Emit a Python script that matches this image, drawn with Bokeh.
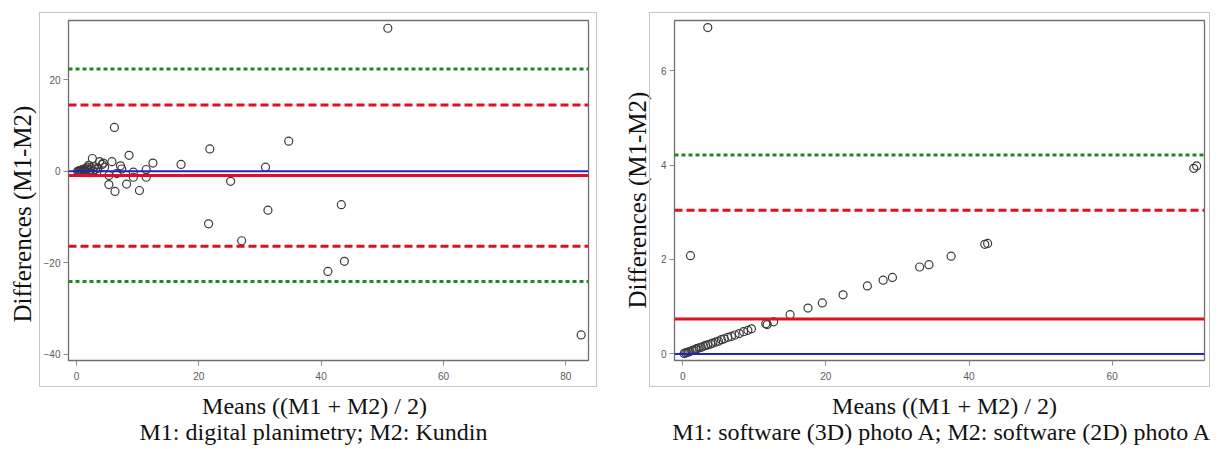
from bokeh.plotting import figure
from bokeh.layouts import row, column
from bokeh.models import FixedTicker, Span, Title, InlineStyleSheet, Range1d
from bokeh.core.properties import value
from bokeh.embed import file_html
from bokeh.resources import INLINE

# ---------------- data: panel A (digital planimetry vs Kundin) ----------------
a_means = [0.2, 0.4, 0.5, 0.6, 0.8, 0.9, 1.0, 1.1, 1.3, 1.4, 1.5, 1.7, 1.8, 2.0,
           2.1, 2.2, 2.4, 2.6, 2.7, 2.9, 3.1, 3.3, 3.5, 3.8, 4.2, 4.4, 4.6,
           5.3, 5.3, 5.8, 6.2, 6.3, 6.6, 7.2, 7.4, 8.2, 8.6, 9.3, 9.3, 10.3,
           11.4, 11.4, 12.5, 17.1, 21.6, 21.8, 25.2, 27.0, 30.9, 31.3, 34.7,
           41.1, 43.3, 43.8, 50.9, 82.5]
a_diffs = [0.0, 0.1, -0.1, 0.2, 0.1, 0.3, -0.2, 0.4, 0.2, 0.6, 0.0, 0.5, 0.9, 1.3,
           0.3, -0.3, 0.8, 2.8, 0.1, 1.0, 0.4, -0.2, 0.7, 2.1, 1.5, 1.8, 0.9,
           -0.9, -2.9, 2.1, 9.6, -4.4, -0.5, 1.2, 0.5, -2.8, 3.5, -0.2, -1.3, -4.2,
           0.4, -1.3, 1.8, 1.5, -11.5, 4.9, -2.2, -15.2, 0.9, -8.5, 6.6,
           -21.9, -7.3, -19.7, 31.3, -35.8]
a_bias = -0.9
a_loa = [-16.4, 14.5]      # bias -/+ 1.96 SD
a_outer = [-24.1, 22.4]    # outer limits
a_xticks = [0, 20, 40, 60, 80]
a_yticks = [-40, -20, 0, 20]
a_subtitle = "M1: digital planimetry; M2: Kundin"

# ---------------- data: panel B (software 3D vs 2D photo A) ----------------
b_means = [0.2, 0.4, 0.6, 0.8, 1.0, 1.3, 1.5, 1.8, 2.0, 2.3, 2.6, 2.9, 3.2, 3.5,
           3.9, 4.2, 4.6, 5.0, 5.4, 5.8, 6.3, 6.8, 7.3, 7.9, 8.5, 9.1, 9.6,
           11.6, 11.8, 12.7, 15.0, 17.5, 19.5, 22.4, 25.8, 28.0, 29.3, 33.1,
           34.4, 37.5, 42.2, 42.6, 71.4, 71.8, 1.08, 3.5]
b_diffs = [0.01, 0.02, 0.03, 0.04, 0.05, 0.07, 0.08, 0.10, 0.11, 0.13, 0.14, 0.16,
           0.18, 0.19, 0.21, 0.23, 0.25, 0.27, 0.30, 0.32, 0.35, 0.37, 0.40, 0.43,
           0.47, 0.50, 0.53,
           0.64, 0.62, 0.68, 0.83, 0.97, 1.08, 1.25, 1.44, 1.56, 1.62, 1.84,
           1.89, 2.07, 2.32, 2.34, 3.93, 3.98, 2.08, 6.91]
b_bias = 0.74
b_loa = [3.04]
b_outer = [4.21]
b_xticks = [0, 20, 40, 60]
b_yticks = [0, 2, 4, 6]
b_subtitle = "M1: software (3D) photo A; M2: software (2D) photo A"

x_title = "Means ((M1 + M2) / 2)"
y_title = "Differences (M1-M2)"

RED = "#e2101e"
GREEN = "#1d8a2a"
BLUE = "#2222c8"
SERIF = "Liberation Serif"
H = 388


def panel(means, diffs, bias, loa, outer, xr, yr, xticks, yticks, width,
          mb_left, mb_right, box, ylab_off, ylab_standoff):
    p = figure(width=width, height=H, x_range=xr, y_range=yr,
               output_backend="svg", toolbar_location=None,
               min_border_left=mb_left, min_border_right=mb_right,
               min_border_top=20, min_border_bottom=H - 360)
    p.grid.visible = False
    p.outline_line_color = "#6e6e6e"
    p.outline_line_width = 1.3
    p.background_fill_color = "white"
    p.border_fill_color = "white"
    for ax in (p.xaxis[0], p.yaxis[0]):
        ax.axis_line_color = None
        ax.major_tick_line_color = "#8a8a8a"
        ax.major_tick_out = 5
        ax.major_tick_in = 0
        ax.minor_tick_line_color = None
        ax.major_label_text_font = "Liberation Sans"
        ax.major_label_text_font_size = "10px"
        ax.major_label_text_color = "#5a5a5a"
    p.xaxis[0].ticker = FixedTicker(ticks=xticks)
    p.yaxis[0].ticker = FixedTicker(ticks=yticks)
    p.xaxis[0].major_label_standoff = 6
    p.yaxis[0].major_label_standoff = 3

    # reference lines
    p.add_layout(Span(location=0, dimension="width", line_color=BLUE, line_width=2))
    p.add_layout(Span(location=bias, dimension="width", line_color=RED, line_width=3))
    for v in loa:
        p.add_layout(Span(location=v, dimension="width", line_color=RED,
                          line_width=3, line_dash="8 4"))
    for v in outer:
        p.add_layout(Span(location=v, dimension="width", line_color=GREEN,
                          line_width=3, line_dash="4 3"))

    p.scatter(means, diffs, marker="circle", size=8, fill_color=None,
              line_color="#3a3a3a", line_width=1.2)

    # light outer frame around the plot area and tick labels
    css = (":host { position: relative; }"
           ":host::after { content: ''; position: absolute; "
           f"left: {box[0]}px; top: {box[1]}px; width: {box[2]}px; height: {box[3]}px; "
           "border: 1.5px solid #c6c6c6; box-sizing: border-box; "
           "pointer-events: none; z-index: 10; }")
    p.stylesheets = [InlineStyleSheet(css=css)]

    p.add_layout(Title(text=y_title, align="left", offset=ylab_off, standoff=ylab_standoff,
                       text_font=SERIF, text_font_size="25px",
                       text_font_style="normal", text_color="#111111"), "left")
    return p


pa = panel(a_means, a_diffs, a_bias, a_loa, a_outer, (-1.3, 83.7), (-41.4, 33.0),
           a_xticks, a_yticks, 610, 68, 22,
           (39, 12, 558, 375), 38, 10)
pb = panel(b_means, b_diffs, b_bias, b_loa, b_outer, (-1.15, 72.9), (-0.14, 7.06),
           b_xticks, b_yticks, 610, 64, 16,
           (39, 12, 561, 375), 52, 14)

# captions strip below both panels (x-axis titles and method descriptions)
CH = 60
cap = figure(width=1220, height=CH, x_range=Range1d(0, 1220), y_range=Range1d(CH, 0),
             output_backend="svg", toolbar_location=None,
             x_axis_type=None, y_axis_type=None, min_border=0)
cap.grid.visible = False
cap.outline_line_color = None
cap.text(x=[314, 944], y=[17, 17], text=[x_title, x_title],
         text_align="center", text_baseline="alphabetic",
         text_font=value(SERIF), text_font_size="24px", text_color="#111111")
cap.text(x=[313, 942], y=[43, 43], text=[a_subtitle, b_subtitle],
         text_align="center", text_baseline="alphabetic",
         text_font=value(SERIF), text_font_size="24px", text_color="#111111")

layout = column(row(pa, pb), cap)
open("out.html", "w").write(file_html(layout, INLINE))
